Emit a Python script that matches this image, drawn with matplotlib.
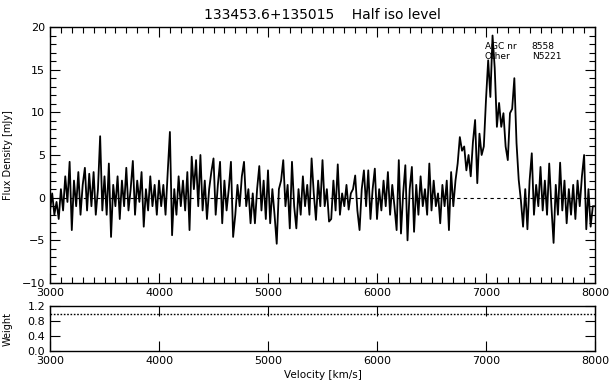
import numpy as np
import matplotlib
matplotlib.use("Agg")
import matplotlib.pyplot as plt
from matplotlib.ticker import MultipleLocator

title = "133453.6+135015    Half iso level"
agc_nr = "8558"
other = "N5221"

v_start, v_step = 3000, 20
flux = [
    -1.5, 0.5, -2.0, -0.5, -2.5,
    1.0, -1.5, 2.5, -0.5, 4.2,
    -3.8, 2.0, -1.0, 3.0, -2.0,
    1.5, 3.5, -1.5, 2.8, -1.0,
    3.0, -2.0, 1.0, 7.2, -1.5,
    2.5, -2.0, 4.0, -4.6, 1.5,
    -1.0, 2.5, -2.5, 2.0, -1.0,
    3.5, -1.5, 1.0, 4.3, -2.0,
    2.0, -0.5, 3.0, -3.4, 1.0,
    -1.5, 2.5, -1.0, 1.5, -2.0,
    2.0, -1.0, 1.5, -2.0, 3.0,
    7.7, -4.4, 1.0, -2.0, 2.5,
    -1.0, 2.0, -1.5, 3.0, -3.8,
    4.8, 1.0, 4.4, -1.0, 5.0,
    -1.5, 2.0, -2.5, 1.0, 3.0,
    4.6, -2.0, 1.5, 4.2, -3.0,
    2.0, -1.5, 1.0, 4.2, -4.6,
    -2.0, 1.5, -1.0, 2.5, 4.2,
    -1.0, 1.0, -3.0, 0.5, -3.0,
    1.0, 3.7, -1.5, 2.0, -2.5,
    3.2, -3.0, 1.0, -2.0, -5.4,
    1.0, 2.0, 4.4, -1.0, 1.5,
    -3.6, 4.2, -1.0, -3.6, 1.0,
    -2.0, 2.5, -1.0, 1.5, -2.0,
    4.6, 0.5, -2.6, 2.0, -1.0,
    4.4, -1.0, 1.0, -2.8, -2.5,
    2.0, -1.5, 3.9, -2.0, 0.5,
    -1.0, 1.5, -1.4, 0.5, 1.0,
    2.6, -1.5, -3.8, 1.0, 3.2,
    -1.0, 3.2, -2.5, 1.0, 3.4,
    -2.5, 1.0, -1.5, 2.0, -1.0,
    3.0, -2.0, 1.5, -1.0, -3.8,
    4.4, -4.2, 0.5, 3.8, -5.0,
    1.0, 3.6, -4.0, 1.5, -2.0,
    2.5, -1.0, 1.0, -2.0, 4.0,
    -1.5, 2.0, -1.0, 0.5, -3.0,
    1.5, -1.0, 2.0, -3.8, 3.0,
    -1.0, 2.0, 4.0, 7.1, 5.5,
    6.0, 3.2, 5.0, 2.5, 6.5,
    9.1, 1.7, 7.5, 5.0, 6.0,
    11.5, 16.1, 11.8, 19.0, 15.2,
    8.3, 11.1, 8.3, 9.9, 6.0,
    4.4, 9.9, 10.4, 14.0, 6.4,
    2.1, -0.3, -3.4, 1.0, -3.7,
    2.0, 5.2, -2.0, 1.5, -1.0,
    3.6, -1.5, 2.0, -2.0, 4.0,
    -1.0, -5.3, 1.5, -2.0, 4.1,
    -1.5, 2.0, -3.0, 1.0, -2.0,
    1.5, -2.5, 2.0, -1.0, 2.5,
    5.0, -3.7, 1.0, -3.4, -1.0,
    -1.0,
]
velocity = v_start + v_step * np.arange(len(flux))
weight_vel = [3000, 8000]
weight = [1.0, 1.0]

W, H = 616, 387
fig = plt.figure(figsize=(W / 100, H / 100), dpi=100)
plt.rcParams['font.family'] = ['DejaVu Sans']

def ax_rect(x0, y0, x1, y1):
    return [x0 / W, 1 - y1 / H, (x1 - x0) / W, (y1 - y0) / H]

ax = fig.add_axes(ax_rect(50, 27, 595, 283))
ax.plot(velocity, flux, color='black', lw=1.3)
ax.axhline(0, color='black', lw=0.8, ls=(0, (3, 3)))
ax.set_xlim(3000, 8000)
ax.set_ylim(-10, 20)
ax.xaxis.set_major_locator(MultipleLocator(1000))
ax.xaxis.set_minor_locator(MultipleLocator(100))
ax.yaxis.set_major_locator(MultipleLocator(5))
ax.yaxis.set_minor_locator(MultipleLocator(1))
ax.tick_params(which='both', direction='in', top=True, right=True, labelsize=8, width=0.8)
ax.tick_params(which='major', length=7)
ax.tick_params(which='minor', length=4)
ax.set_ylabel("Flux Density [mJy]", fontsize=7, labelpad=6)
for s in ax.spines.values():
    s.set_linewidth(1.0)
ax.set_title(title, fontsize=10, pad=6)
fs_txt = 6.5
ax.text(0.798, 0.922, "AGC nr", transform=ax.transAxes, fontsize=fs_txt, va='center', ha='left')
ax.text(0.884, 0.922, agc_nr, transform=ax.transAxes, fontsize=fs_txt, va='center', ha='left')
ax.text(0.798, 0.883, "Other", transform=ax.transAxes, fontsize=fs_txt, va='center', ha='left')
ax.text(0.884, 0.883, other, transform=ax.transAxes, fontsize=fs_txt, va='center', ha='left')

ax2 = fig.add_axes(ax_rect(50, 306, 595, 351))
ax2.plot(weight_vel, weight, color='black', lw=1.0, ls=(0, (1.2, 1.2)))
ax2.set_xlim(3000, 8000)
ax2.set_ylim(0, 1.2)
ax2.xaxis.set_major_locator(MultipleLocator(1000))
ax2.set_yticks([0.0, 0.4, 0.8, 1.2])
ax2.set_yticklabels(["0.0", "0.4", "0.8", "1.2"])
ax2.tick_params(which='both', direction='in', top=True, right=True, labelsize=8, width=0.8, length=7)
ax2.set_ylabel("Weight", fontsize=7, labelpad=4)
ax2.set_xlabel("Velocity [km/s]", fontsize=7.5, labelpad=3)
for s in ax2.spines.values():
    s.set_linewidth(1.0)

ax.yaxis.set_label_coords(-0.068, 0.5)
ax2.yaxis.set_label_coords(-0.068, 0.5)

fig.savefig("out.png", dpi=100, facecolor='white')
